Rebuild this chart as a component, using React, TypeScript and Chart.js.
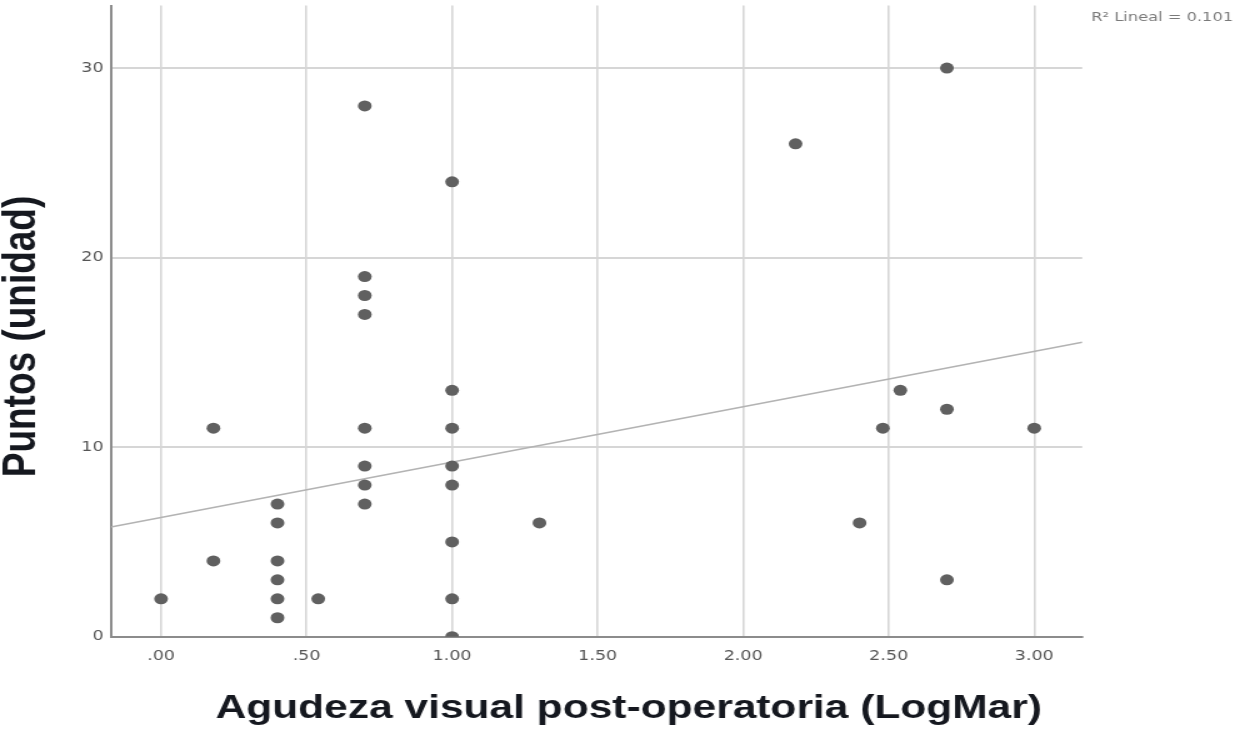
import React, { useEffect, useRef } from "react";
import { Chart, registerables } from "chart.js";

Chart.register(...registerables);

// Post-operative visual acuity (LogMar) vs points (units)
const X_VALUES = [
  0.0,
  0.18, 0.18,
  0.4, 0.4, 0.4, 0.4, 0.4, 0.4,
  0.54,
  0.7, 0.7, 0.7, 0.7, 0.7, 0.7, 0.7, 0.7,
  1.0, 1.0, 1.0, 1.0, 1.0, 1.0, 1.0, 1.0,
  1.3,
  2.18,
  2.4,
  2.48,
  2.54,
  2.7, 2.7, 2.7,
  3.0,
];
const Y_VALUES = [
  2,
  11, 4,
  7, 6, 4, 3, 2, 1,
  2,
  28, 19, 18, 17, 11, 9, 8, 7,
  24, 13, 11, 9, 8, 5, 2, 0,
  6,
  26,
  6,
  11,
  13,
  30, 12, 3,
  11,
];

// Fitted line, endpoints at the axis limits
const FIT_X = [-0.172, 3.165];
const FIT_Y = [5.79, 15.53];

const X_MIN = -0.172;
const X_MAX = 3.165;
const Y_MIN = 0;
const Y_MAX = 33.3;
const X_STEP = 0.5;
const Y_STEP = 10;

const X_TITLE = "Agudeza visual post-operatoria (LogMar)";
const Y_TITLE = "Puntos (unidad)";
const R2_LABEL = "R² Lineal = 0.101";

const STRETCH = 1.25;
const BASE_W = 1000;
const BASE_H = 733;

const titlesPlugin = {
  id: "spssTitles",
  afterDraw(chart: any) {
    const ctx = chart.ctx;
    ctx.save();
    ctx.fillStyle = "#15181f";
    // x title
    ctx.font = 'bold 34px "Liberation Sans", Arial, sans-serif';
    ctx.textAlign = "center";
    ctx.textBaseline = "alphabetic";
    ctx.fillText(X_TITLE, 503, 718);
    // y title
    ctx.save();
    ctx.translate(18, 336.5);
    ctx.rotate(-Math.PI / 2);
    ctx.font = 'bold 37px "Liberation Sans", Arial, sans-serif';
    ctx.textAlign = "center";
    ctx.textBaseline = "middle";
    ctx.fillText(Y_TITLE, 0, 0);
    ctx.restore();
    // R² label
    ctx.font = '13px "DejaVu Sans", sans-serif';
    ctx.fillStyle = "#7a7a7a";
    ctx.textAlign = "left";
    ctx.textBaseline = "middle";
    ctx.fillText(R2_LABEL, 873, 18);
    ctx.restore();
  },
};

export default function App() {
  const canvasRef = useRef<HTMLCanvasElement | null>(null);

  useEffect(() => {
    if (!canvasRef.current) return;
    const points = X_VALUES.map((x, i) => ({ x, y: Y_VALUES[i] }));
    const fit = FIT_X.map((x, i) => ({ x, y: FIT_Y[i] }));
    const tickFont = { family: '"DejaVu Sans", sans-serif', size: 14 };
    const chart = new Chart(canvasRef.current, {
      type: "scatter",
      data: {
        datasets: [
          {
            label: "Puntos",
            data: points,
            backgroundColor: "#606060",
            borderWidth: 0,
            pointRadius: 5.5,
            pointHoverRadius: 5.5,
          },
          {
            label: "Ajuste lineal",
            data: fit,
            showLine: true,
            borderColor: "#b3b3b3",
            borderWidth: 1.6,
            pointRadius: 0,
            fill: false,
          } as any,
        ],
      },
      options: {
        responsive: true,
        maintainAspectRatio: false,
        animation: false,
        layout: { padding: { left: 0, top: 4, right: 134.2, bottom: 0 } },
        plugins: {
          legend: { display: false },
          tooltip: { enabled: false },
        },
        scales: {
          x: {
            type: "linear",
            min: X_MIN,
            max: X_MAX,
            ticks: {
              stepSize: X_STEP,
              includeBounds: false,
              autoSkip: false,
              maxRotation: 0,
              padding: 11,
              color: "#555555",
              font: tickFont,
              callback: (v: any) => Number(v).toFixed(2).replace(/^0/, ""),
            },
            grid: { color: "#d6d6d6", lineWidth: 1.6, drawTicks: false },
            border: { color: "#8c8c8c", width: 2 },
            afterFit: (scale: any) => {
              scale.height = BASE_H - 636.7;
              scale.paddingLeft = 0;
              scale.paddingRight = 0;
            },
          },
          y: {
            type: "linear",
            min: Y_MIN,
            max: Y_MAX,
            ticks: {
              stepSize: Y_STEP,
              includeBounds: false,
              padding: 6,
              color: "#555555",
              font: tickFont,
            },
            grid: { color: "#d6d6d6", lineWidth: 2, drawTicks: false },
            border: { color: "#8c8c8c", width: 2 },
            afterFit: (scale: any) => {
              scale.width = 88.8;
              scale.paddingTop = 0;
              scale.paddingBottom = 0;
            },
          },
        },
      },
      plugins: [titlesPlugin],
    } as any);
    return () => chart.destroy();
  }, []);

  return (
    <div
      style={{
        position: "fixed",
        left: 0,
        top: 0,
        width: "1250px",
        height: "733px",
        overflow: "hidden",
        background: "#ffffff",
      }}
    >
      <div
        style={{
          position: "absolute",
          left: 0,
          top: 0,
          width: BASE_W + "px",
          height: BASE_H + "px",
          transform: `scale(${STRETCH}, 1)`,
          transformOrigin: "0 0",
        }}
      >
        <canvas ref={canvasRef} />
      </div>
    </div>
  );
}
